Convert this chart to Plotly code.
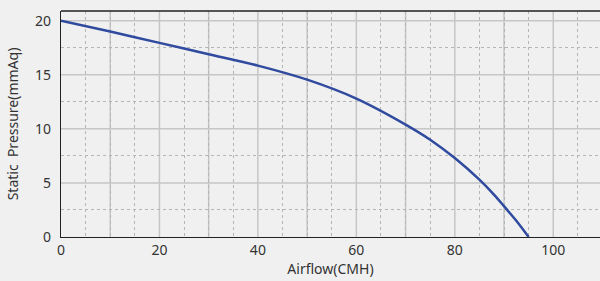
import plotly.graph_objects as go

airflow = [0, 10, 20, 30, 40, 50, 60, 70, 75, 80, 85, 88, 90, 92.5, 95]
pressure = [20, 19.0, 17.95, 16.9, 15.85, 14.55, 12.8, 10.4, 9.0, 7.3, 5.3, 3.9, 2.85, 1.5, 0]

fig = go.Figure()
fig.add_trace(go.Scatter(x=airflow, y=pressure, mode="lines",
                         line=dict(color="#2F4A9E", width=2.5, shape="spline", smoothing=0.8),
                         hoverinfo="skip", showlegend=False))

font = "Noto Sans, Open Sans, sans-serif"
fig.update_layout(
    width=600, height=281,
    margin=dict(l=61, r=0, t=11, b=44, autoexpand=False),
    paper_bgcolor="#f0f0f0", plot_bgcolor="#f0f0f0",
    font=dict(family=font, size=14, color="#333333"),
    xaxis=dict(range=[0, 109.5], dtick=20, tick0=0, automargin=False,
               showline=True, linecolor="#222222", linewidth=1.2,
               showgrid=False, zeroline=False,
               ticks="", ticklen=0,
               minor=dict(dtick=5, showgrid=True, gridcolor="#b5b5b5", griddash="dot", gridwidth=1),
               title=dict(text="Airflow(CMH)", font=dict(size=14), standoff=0),
               tickfont=dict(size=14)),
    yaxis=dict(range=[0, 20.9], dtick=5, tick0=0, automargin=False,
               showline=True, linecolor="#222222", linewidth=1.2,
               showgrid=False, zeroline=False, ticks="", ticklabelstandoff=6,
               minor=dict(dtick=2.5, showgrid=True, gridcolor="#b5b5b5", griddash="dot", gridwidth=1),
               title=dict(text="Static  Pressure(mmAq)", font=dict(size=14), standoff=13),
               tickfont=dict(size=14)),
)
major_x = [10, 20, 30, 40, 50, 60, 70, 80, 90, 100]
major_y = [5, 10, 15, 20]
for xv in major_x:
    fig.add_shape(type="line", x0=xv, x1=xv, y0=0, y1=1, yref="paper", xref="x",
                  line=dict(color="#c6c6c6", width=1.5), layer="below")
for yv in major_y:
    fig.add_shape(type="line", x0=0, x1=1, xref="paper", y0=yv, y1=yv, yref="y",
                  line=dict(color="#c6c6c6", width=1.5), layer="below")
# top frame line
fig.add_shape(type="line", x0=0, x1=1, xref="paper", y0=1, y1=1, yref="paper",
              line=dict(color="#222222", width=1.5), layer="above")

fig.write_html("out.html", config={"displayModeBar": False},
               post_script="document.body.style.margin='0';document.body.style.background='#f0f0f0';document.body.style.overflow='hidden';")
